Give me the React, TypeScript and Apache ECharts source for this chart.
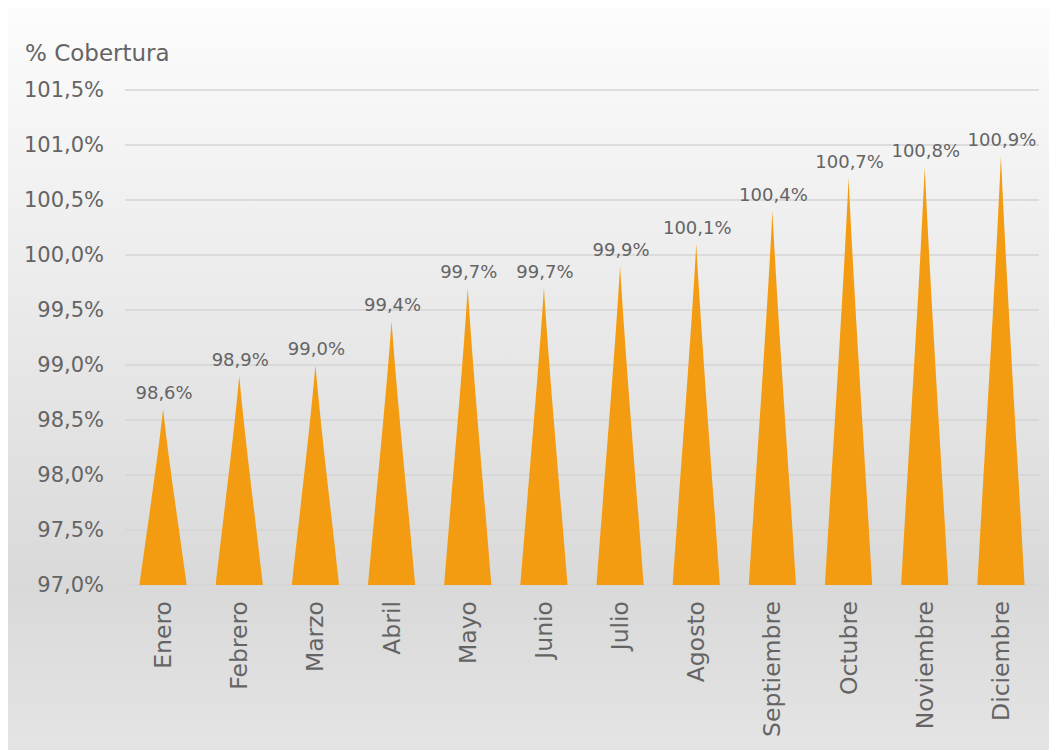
import React, { useEffect, useRef } from "react";
import * as echarts from "echarts";

// Monthly coverage ratio (%)
const months = [
  "Enero",
  "Febrero",
  "Marzo",
  "Abril",
  "Mayo",
  "Junio",
  "Julio",
  "Agosto",
  "Septiembre",
  "Octubre",
  "Noviembre",
  "Diciembre",
];
const coverage = [98.6, 98.9, 99.0, 99.4, 99.7, 99.7, 99.9, 100.1, 100.4, 100.7, 100.8, 100.9];

const axisMin = 97.0;
const axisMax = 101.5;
const axisStep = 0.5;
const axisTitle = "% Cobertura";

const FONT = "'DejaVu Sans', sans-serif";
const TEXT = "#646464";
const SPIKE = "#F39C12";

const fmt = (v: number) => v.toFixed(1).replace(".", ",") + "%";

// Tapered spike from the axis floor up to the value, with its label on top
function renderSpike(params: any, api: any) {
  const idx = api.value(0);
  const val = api.value(1);
  const tip = api.coord([idx, val]);
  const base = api.coord([idx, axisMin]);
  const band = api.size([1, 0])[0];
  const w = band * 0.62;
  const cx = tip[0];
  const ty = tip[1];
  const by = base[1];
  const h = by - ty;
  const l = cx - w / 2;
  const r = cx + w / 2;
  const d =
    `M${l},${by} L${r},${by} ` +
    `C${cx + w * 0.35},${by - h * 0.3} ${cx + w * 0.12},${ty + h * 0.3} ${cx},${ty} ` +
    `C${cx - w * 0.12},${ty + h * 0.3} ${cx - w * 0.35},${by - h * 0.3} ${l},${by} Z`;
  return {
    type: "group",
    children: [
      {
        type: "path",
        shape: { pathData: d },
        style: { fill: SPIKE },
      },
      {
        type: "text",
        x: cx + 1,
        y: ty - 8,
        style: {
          text: fmt(val),
          font: `18px ${FONT}`,
          fill: TEXT,
          align: "center",
          verticalAlign: "bottom",
        },
      },
    ],
  };
}

export default function App() {
  const ref = useRef<HTMLDivElement>(null);

  useEffect(() => {
    if (!ref.current) return;
    const chart = echarts.init(ref.current, undefined, { renderer: "svg" });
    chart.setOption({
      animation: false,
      backgroundColor: {
        type: "linear",
        x: 0,
        y: 0,
        x2: 0,
        y2: 1,
        colorStops: [
          { offset: 0, color: "#fcfcfc" },
          { offset: 0.78, color: "#d9d9d9" },
          { offset: 1, color: "#e4e4e4" },
        ],
      },
      graphic: [
        {
          type: "text",
          left: 17,
          top: 33,
          style: { text: axisTitle, font: `23px ${FONT}`, fill: TEXT },
        },
      ],
      grid: { left: 117, right: 18, top: 82, bottom: 165, containLabel: false },
      xAxis: {
        type: "category",
        data: months,
        axisLine: { show: false },
        axisTick: { show: false },
        axisLabel: {
          rotate: 90,
          margin: 16,
          fontFamily: FONT,
          fontSize: 23.5,
          color: TEXT,
        },
      },
      yAxis: {
        type: "value",
        min: axisMin,
        max: axisMax,
        interval: axisStep,
        axisLine: { show: false },
        axisTick: { show: false },
        splitLine: { lineStyle: { color: "#d4d4d4", width: 1.5 } },
        axisLabel: {
          margin: 21,
          fontFamily: FONT,
          fontSize: 21,
          color: TEXT,
          formatter: (v: number) => fmt(v),
        },
      },
      series: [
        {
          type: "custom",
          data: coverage.map((v, i) => [i, v]),
          encode: { x: 0, y: 1 },
          renderItem: renderSpike,
        },
      ],
    });
    return () => chart.dispose();
  }, []);

  return <div ref={ref} style={{ width: 1049, height: 742 }} />;
}
